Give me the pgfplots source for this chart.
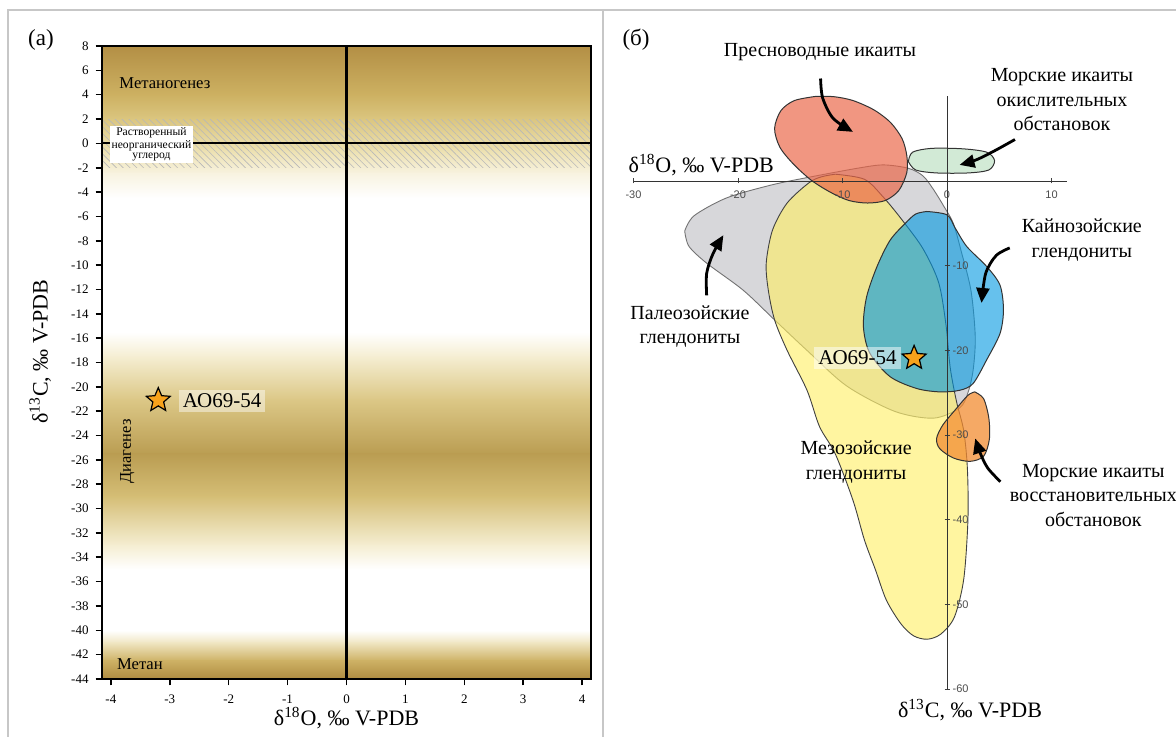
\documentclass[border=0pt]{standalone}
\usepackage{fontspec}
\setmainfont{Liberation Serif}
\newfontfamily\sansf{Liberation Sans}
\usepackage{pgfplots}
\pgfplotsset{compat=1.18}
\usetikzlibrary{arrows.meta,patterns.meta}

\definecolor{g1}{RGB}{179,143,69}
\definecolor{g2}{RGB}{205,177,98}
\definecolor{g3}{RGB}{219,198,128}
\definecolor{g4}{RGB}{236,224,175}
\definecolor{g5}{RGB}{248,243,225}
\definecolor{pp}{RGB}{245,238,210}
\definecolor{mm}{RGB}{220,200,135}
\definecolor{dd}{RGB}{186,157,82}
\definecolor{m2}{RGB}{213,190,118}
\definecolor{p2}{RGB}{240,230,195}
\definecolor{g6}{RGB}{205,177,100}
\definecolor{g7}{RGB}{175,140,65}
\definecolor{cgray}{RGB}{201,201,206}
\definecolor{cyel}{RGB}{255,239,96}
\definecolor{cblue}{RGB}{0,152,225}
\definecolor{cred}{RGB}{235,100,70}
\definecolor{corg}{RGB}{242,140,50}
\definecolor{cgrn}{RGB}{205,232,210}
\definecolor{starc}{RGB}{247,162,27}

\pgfdeclareplotmark{fstar}{%
  \pgfpathmoveto{\pgfpointpolar{90}{\pgfplotmarksize}}%
  \pgfpathlineto{\pgfpointpolar{126}{0.45\pgfplotmarksize}}%
  \pgfpathlineto{\pgfpointpolar{162}{\pgfplotmarksize}}%
  \pgfpathlineto{\pgfpointpolar{198}{0.45\pgfplotmarksize}}%
  \pgfpathlineto{\pgfpointpolar{234}{\pgfplotmarksize}}%
  \pgfpathlineto{\pgfpointpolar{270}{0.45\pgfplotmarksize}}%
  \pgfpathlineto{\pgfpointpolar{306}{\pgfplotmarksize}}%
  \pgfpathlineto{\pgfpointpolar{342}{0.45\pgfplotmarksize}}%
  \pgfpathlineto{\pgfpointpolar{18}{\pgfplotmarksize}}%
  \pgfpathlineto{\pgfpointpolar{54}{0.45\pgfplotmarksize}}%
  \pgfpathclose
  \pgfusepathqfillstroke}

\newcommand{\rlab}{\fontsize{10}{12.25}\selectfont}

\begin{document}
\begin{tikzpicture}
\useasboundingbox (0pt,0pt) rectangle (588pt,368.5pt);
\draw[black!22, line width=1pt] (4pt,0pt) -- (4pt,363.5pt) -- (588pt,363.5pt);
\draw[black!22, line width=1pt] (301.5pt,0pt) -- (301.5pt,363.5pt);
\node[font=\fontsize{11.5}{13}\selectfont] at (20.5pt,348.5pt) {(а)};
\node[font=\fontsize{11.5}{13}\selectfont] at (318pt,348.5pt) {(б)};

%%%%%%%%%%%%%%%% LEFT PANEL
\begin{axis}[at={(51pt,29pt)}, anchor=south west, scale only axis,
  width=244.5pt, height=316.5pt,
  xmin=-4.15, xmax=4.15, ymin=-44, ymax=8,
  xtick={-4,-3,...,4}, ytick={-44,-42,...,8},
  tick align=outside, tick pos=left, major tick length=3.2pt,
  tick style={black, line width=0.8pt},
  axis line style={black, line width=1pt},
  axis on top, clip=false,
  ticklabel style={font=\fontsize{6.5}{7}\selectfont},
  /pgf/number format/assume math mode=true,
  xticklabel style={yshift=-1pt},
]
\addplot[draw=none, top color=g1, bottom color=g2] coordinates {(-4.15,8) (4.15,8) (4.15,3.95) (-4.15,3.95)} --cycle;
\addplot[draw=none, top color=g2, bottom color=g3] coordinates {(-4.15,4) (4.15,4) (4.15,1.95) (-4.15,1.95)} --cycle;
\addplot[draw=none, top color=g3, bottom color=g4] coordinates {(-4.15,2) (4.15,2) (4.15,-0.55) (-4.15,-0.55)} --cycle;
\addplot[draw=none, top color=g4, bottom color=g5] coordinates {(-4.15,-0.5) (4.15,-0.5) (4.15,-2.55) (-4.15,-2.55)} --cycle;
\addplot[draw=none, top color=g5, bottom color=white] coordinates {(-4.15,-2.5) (4.15,-2.5) (4.15,-4.5) (-4.15,-4.5)} --cycle;
\addplot[draw=none, top color=white, bottom color=pp] coordinates {(-4.15,-15.5) (4.15,-15.5) (4.15,-17.55) (-4.15,-17.55)} --cycle;
\addplot[draw=none, top color=pp, bottom color=mm] coordinates {(-4.15,-17.5) (4.15,-17.5) (4.15,-21.05) (-4.15,-21.05)} --cycle;
\addplot[draw=none, top color=mm, bottom color=dd] coordinates {(-4.15,-21) (4.15,-21) (4.15,-25.55) (-4.15,-25.55)} --cycle;
\addplot[draw=none, top color=dd, bottom color=m2] coordinates {(-4.15,-25.5) (4.15,-25.5) (4.15,-29.05) (-4.15,-29.05)} --cycle;
\addplot[draw=none, top color=m2, bottom color=pp] coordinates {(-4.15,-29) (4.15,-29) (4.15,-33.05) (-4.15,-33.05)} --cycle;
\addplot[draw=none, top color=pp, bottom color=white] coordinates {(-4.15,-33) (4.15,-33) (4.15,-35) (-4.15,-35)} --cycle;
\addplot[draw=none, top color=white, bottom color=p2] coordinates {(-4.15,-40) (4.15,-40) (4.15,-41.05) (-4.15,-41.05)} --cycle;
\addplot[draw=none, top color=p2, bottom color=g6] coordinates {(-4.15,-41) (4.15,-41) (4.15,-42.55) (-4.15,-42.55)} --cycle;
\addplot[draw=none, top color=g6, bottom color=g7] coordinates {(-4.15,-42.5) (4.15,-42.5) (4.15,-44) (-4.15,-44)} --cycle;
% hatched DIC band
\addplot[draw=none, pattern={Lines[angle=-45,distance=2.4pt,line width=0.3pt]}, pattern color=black!28] coordinates {(-4.15,2) (4.15,2) (4.15,-2) (-4.15,-2)} --cycle;
% zero lines
\addplot[black, line width=0.9pt] coordinates {(-4.15,0) (4.15,0)};
\addplot[black, line width=1pt] coordinates {(0,8) (0,-44)};
% texts
\node[anchor=west, inner sep=0pt, font=\fontsize{8.3}{9}\selectfont] at (axis cs:-3.86,4.93) {Метаногенез};
\node[fill=white, inner sep=1pt, align=center, font=\fontsize{5.8}{4.9}\selectfont, minimum width=41pt, minimum height=15pt] at (axis cs:-3.31,-0.08) {Растворенный\\неорганический\\углерод};
\node[rotate=90, inner sep=0pt, font=\fontsize{8.2}{9}\selectfont] at (axis cs:-3.72,-25.3) {Диагенез};
\node[anchor=west, inner sep=0pt, font=\fontsize{8.3}{9}\selectfont] at (axis cs:-3.9,-42.8) {Метан};
\node[anchor=west, fill=white, fill opacity=0.45, text opacity=1, inner sep=2pt, font=\fontsize{10.5}{12}\selectfont] at (axis cs:-2.85,-21.15) {АО69-54};
\addplot[only marks, mark=fstar, mark size=6.3pt, mark options={fill=starc, draw=black, line width=0.6pt}] coordinates {(-3.195,-21.1)};
% axis labels
\node[font=\fontsize{11}{12}\selectfont] at (axis cs:0,-47.2) {δ\textsuperscript{18}O, ‰ V-PDB};
\node[rotate=90, font=\fontsize{11}{12}\selectfont] at (axis cs:-5.2,-17.1) {δ\textsuperscript{13}C, ‰ V-PDB};
\end{axis}

%%%%%%%%%%%%%%%% RIGHT PANEL
\begin{axis}[at={(316.75pt,23.9pt)}, anchor=south west, scale only axis,
  width=216.85pt, height=296.45pt,
  xmin=-30, xmax=11.5, ymin=-60, ymax=10,
  axis lines=middle, axis line style={-, black!80, line width=0.45pt},
  xtick={-30,-20,-10,0,10}, ytick={-60,-50,-40,-30,-20,-10},
  major tick length=2.5pt, tick style={black!75, line width=0.4pt},
  hide obscured x ticks=false, hide obscured y ticks=false,
  xticklabel style={font=\sansf\fontsize{5.5}{6}\selectfont, text=black!70},
  yticklabel style={anchor=west, xshift=0.5pt, font=\sansf\fontsize{5.5}{6}\selectfont, text=black!70},
  /pgf/number format/assume math mode=true,
  axis on top, clip=false,
]
% Paleozoic (gray)
\addplot[smooth, fill=cgray, fill opacity=0.75, draw=black!55, line width=0.45pt] coordinates {
(-25.1,-5.9) (-24.2,-4.1) (-21.1,-2.0) (-16.9,-0.5) (-13.4,0.4) (-8.6,1.5) (-6.1,1.9) (-3.7,1.5) (-2.3,0.6) (-1.3,-1.0) (-0.3,-3.0) (0.6,-5.0) (1.4,-8.5) (2.3,-13) (2.7,-18.4) (2.5,-22.3) (2.0,-25.0) (1.2,-26.8) (-1.3,-28.0) (-5.0,-27.2) (-9.6,-24.2) (-13.4,-20.0) (-16.5,-16.4) (-19.5,-12.9) (-23.0,-9.7) (-24.7,-7.7) (-25.1,-5.9)} --cycle;
% Mesozoic (yellow)
\addplot[smooth, fill=cyel, fill opacity=0.6, draw=black!75, line width=0.45pt] coordinates {
(-10.7,0.8) (-7.9,0.2) (-6.1,-1.9) (-4.3,-4.6) (-2.3,-8.0) (-0.8,-12) (-0.1,-17) (0.3,-22) (0.9,-26) (1.6,-29.5) (1.95,-34) (2.0,-40) (1.6,-47) (0.7,-51.5) (-0.6,-53.5) (-1.9,-54.1) (-3.2,-53.7) (-4.4,-52.3) (-5.8,-49.5) (-6.85,-45.9) (-7.9,-42.4) (-9.0,-37.7) (-10.7,-32.2) (-12.2,-29.0) (-13.4,-24.7) (-15.3,-20.0) (-16.5,-16.4) (-17.1,-12.9) (-17.3,-9.7) (-16.7,-5.8) (-15.3,-2.6) (-13.2,-0.2) (-12.0,0.5) (-10.7,0.8)} --cycle;
% Cenozoic (blue)
\addplot[smooth, fill=cblue, fill opacity=0.6, draw=black!80, line width=0.5pt] coordinates {
(-1.94,-3.6) (0,-4.0) (0.8,-5.6) (1.9,-7.75) (3.8,-10.1) (5.07,-12.3) (5.4,-15.2) (5.07,-18.0) (3.8,-21.1) (2.5,-23.9) (1.24,-24.7) (-0.67,-24.9) (-2.9,-24.5) (-5.45,-23.1) (-7.4,-20.3) (-8.0,-17.2) (-7.7,-13.7) (-6.7,-10.1) (-5.45,-7.0) (-4.0,-5.0) (-3.0,-3.9) (-1.94,-3.6)} --cycle;
% Freshwater ikaite (red)
\addplot[smooth, fill=cred, fill opacity=0.68, draw=black!80, line width=0.5pt] coordinates {
(-12.5,10.0) (-14.6,9.5) (-15.9,8.3) (-16.5,6.2) (-16.0,4.0) (-14.7,2.0) (-13.0,0.1) (-11.2,-1.3) (-9.4,-2.3) (-7.6,-2.6) (-5.9,-2.3) (-4.6,-1.1) (-3.85,1.0) (-3.85,3.0) (-4.3,5.0) (-5.4,6.9) (-7.0,8.4) (-9.0,9.5) (-10.8,9.95) (-12.5,10.0)} --cycle;
% marine oxic ikaite (green)
\addplot[smooth, fill=cgrn, fill opacity=0.9, draw=black!80, line width=0.5pt] coordinates {
(-3.7,2.3) (-3.3,3.4) (-1.5,3.85) (1.5,3.8) (3.8,3.4) (4.55,2.4) (4.0,1.3) (2.0,0.95) (-1.0,0.95) (-3.0,1.3) (-3.7,2.3)} --cycle;
% marine reducing ikaite (orange)
\addplot[smooth, fill=corg, fill opacity=0.75, draw=black!80, line width=0.5pt] coordinates {
(2.65,-24.9) (3.5,-25.7) (4.0,-28.0) (4.05,-30.5) (3.5,-32.5) (2.2,-33.1) (0.6,-32.7) (-0.7,-31.6) (-1.0,-30.4) (-0.4,-28.8) (0.8,-27.0) (2.0,-25.3) (2.65,-24.9)} --cycle;
% arrows
\addplot[smooth, black, line width=1.4pt, -{Triangle[length=7.5pt,width=6.5pt]}] coordinates {(-12.1,12.1) (-11.9,9.8) (-10.9,7.4) (-9.0,5.8)};
\addplot[smooth, black, line width=1.4pt, -{Triangle[length=7.5pt,width=6.5pt]}] coordinates {(6.5,4.9) (4.6,3.6) (2.8,2.5) (1.2,1.9)};
\addplot[smooth, black, line width=1.4pt, -{Triangle[length=7.5pt,width=6.5pt]}] coordinates {(-23.0,-13.5) (-23.0,-10.9) (-22.4,-8.6) (-21.4,-6.4)};
\addplot[smooth, black, line width=1.4pt, -{Triangle[length=7.5pt,width=6.5pt]}] coordinates {(6.0,-7.9) (4.7,-8.8) (3.7,-10.9) (3.3,-14.4)};
\addplot[smooth, black, line width=1.4pt, -{Triangle[length=7.5pt,width=6.5pt]}] coordinates {(5.1,-35.5) (3.9,-33.9) (3.2,-32.2) (2.7,-30.4)};
% sample
\node[anchor=east, fill=white, fill opacity=0.5, text opacity=1, inner sep=2pt, font=\fontsize{10.5}{12}\selectfont] at (axis cs:-4.4,-20.9) {АО69-54};
\addplot[only marks, mark=fstar, mark size=6.3pt, mark options={fill=starc, draw=black, line width=0.6pt}] coordinates {(-3.15,-20.9)};
% labels
\node[align=center, font=\rlab] at (axis cs:-12.15,15.2) {Пресноводные икаиты};
\node[align=center, font=\rlab] at (axis cs:11.0,9.56) {Морские икаиты\\окислительных\\обстановок};
\node[align=center, font=\rlab] at (axis cs:12.9,-7.0) {Кайнозойские\\глендониты};
\node[align=center, font=\rlab] at (axis cs:-24.6,-17.2) {Палеозойские\\глендониты};
\node[align=center, font=\rlab] at (axis cs:-8.7,-33.2) {Мезозойские\\глендониты};
\node[align=center, font=\rlab] at (axis cs:14.0,-37.1) {Морские икаиты\\восстановительных\\обстановок};
\node[anchor=west, inner sep=0pt, font=\fontsize{11}{12}\selectfont] at (axis cs:-30.5,1.9) {δ\textsuperscript{18}O, ‰ V-PDB};
\node[font=\fontsize{11}{12}\selectfont] at (axis cs:2.2,-62.5) {δ\textsuperscript{13}C, ‰ V-PDB};
\end{axis}
\end{tikzpicture}
\end{document}
